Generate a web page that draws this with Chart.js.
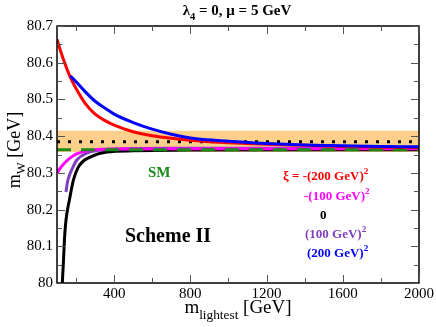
<!DOCTYPE html>
<html>
<head>
<meta charset="utf-8">
<script src="https://cdn.jsdelivr.net/npm/chart.js@4.4.0/dist/chart.umd.min.js"></script>
<style>
  body { margin: 0; background: #fff; }
  canvas { display: block; }
</style>
</head>
<body>
<canvas id="mw" width="436" height="327"></canvas>
<script>
// curves: m_lightest [GeV] vs m_W [GeV]
var redMass = [100, 120, 140, 170, 200, 250, 300, 350, 400, 500, 600, 700, 800, 1000, 1200, 1400, 1600, 1800, 2000];
var redMw   = [80.664, 80.63, 80.60, 80.56, 80.53, 80.488, 80.46, 80.443, 80.43, 80.412, 80.401, 80.394, 80.389, 80.382, 80.378, 80.375, 80.372, 80.370, 80.369];

var blueMass = [170, 200, 250, 300, 350, 400, 500, 600, 700, 800, 1000, 1200, 1400, 1600, 1800, 2000];
var blueMw   = [80.564, 80.548, 80.52, 80.495, 80.477, 80.46, 80.437, 80.419, 80.405, 80.395, 80.386, 80.38, 80.376, 80.374, 80.372, 80.371];

var blackMass = [126, 128, 134, 139, 145, 152, 165, 186, 217, 274, 361, 500, 800, 2000];
var blackMw   = [79.97, 80.0, 80.06, 80.117, 80.16, 80.19, 80.226, 80.28, 80.32, 80.343, 80.357, 80.360, 80.362, 80.363];

var purpleMass = [147, 155, 165, 177, 204, 256, 326, 450, 700, 2000];
var purpleMw   = [80.248, 80.275, 80.293, 80.308, 80.335, 80.354, 80.362, 80.366, 80.367, 80.367];

var magentaMass = [100, 120, 140, 168, 200, 250, 300, 400, 700, 2000];
var magentaMw   = [80.299, 80.315, 80.327, 80.34, 80.351, 80.359, 80.363, 80.365, 80.366, 80.366];

var smMass = [100, 2000];
var smMw = [80.363, 80.363];
var expMw = [80.385, 80.385];
var bandLow = [80.357, 80.357];
var bandHigh = [80.415, 80.415];

var xTickValues = [400, 800, 1200, 1600, 2000];
var xMinorTicks = [200, 600, 1000, 1400, 1800];
var yTickValues = [80, 80.1, 80.2, 80.3, 80.4, 80.5, 80.6, 80.7];
var yMinorTicks = [80.05, 80.15, 80.25, 80.35, 80.45, 80.55, 80.65];

function pts(xs, ys) {
  return xs.map(function(x, i) { return {x: x, y: ys[i]}; });
}

function line(xs, ys, color, extra) {
  var d = {
    data: pts(xs, ys),
    borderColor: color,
    borderWidth: 3,
    pointRadius: 0,
    fill: false,
    cubicInterpolationMode: 'monotone'
  };
  for (var k in extra) d[k] = extra[k];
  return d;
}

var SERIF = '"Liberation Serif", "DejaVu Serif", serif';

// draw text with sub/superscript pieces: parts = [[text, 'n'|'sub'|'sup'], ...]
function rich(ctx, parts, x, y, size, color, weight) {
  ctx.fillStyle = color;
  ctx.textBaseline = 'alphabetic';
  ctx.textAlign = 'left';
  var cx = x;
  parts.forEach(function(p) {
    var s = size, dy = 0;
    if (p[1] === 'sub') { s = size * 0.7; dy = size * 0.3; }
    if (p[1] === 'sup') { s = size * 0.7; dy = -size * 0.45; }
    ctx.font = (weight || '') + ' ' + s + 'px ' + SERIF;
    ctx.fillText(p[0], cx, y + dy);
    cx += ctx.measureText(p[0]).width;
  });
  return cx - x;
}

function richWidth(ctx, parts, size, weight) {
  var w = 0;
  parts.forEach(function(p) {
    var s = (p[1] === 'n') ? size : size * 0.7;
    ctx.font = (weight || '') + ' ' + s + 'px ' + SERIF;
    w += ctx.measureText(p[0]).width;
  });
  return w;
}

var decor = {
  id: 'decor',
  beforeDraw: function(chart) {
    var ctx = chart.ctx;
    ctx.save();
    ctx.fillStyle = '#fff';
    ctx.fillRect(0, 0, chart.width, chart.height);
    ctx.restore();
  },
  afterDraw: function(chart) {
    var ctx = chart.ctx, a = chart.chartArea;
    var xs = chart.scales.x, ys = chart.scales.y;
    ctx.save();
    ctx.strokeStyle = '#000';
    ctx.lineWidth = 1.5;
    ctx.strokeRect(a.left, a.top, a.right - a.left, a.bottom - a.top);

    ctx.lineWidth = 1;
    ctx.strokeStyle = '#555';
    function xt(v, len) {
      var px = Math.round(xs.getPixelForValue(v)) + 0.5;
      ctx.beginPath();
      ctx.moveTo(px, a.bottom); ctx.lineTo(px, a.bottom - len);
      ctx.moveTo(px, a.top); ctx.lineTo(px, a.top + len);
      ctx.stroke();
    }
    function yt(v, len) {
      var py = Math.round(ys.getPixelForValue(v)) + 0.5;
      ctx.beginPath();
      ctx.moveTo(a.left, py); ctx.lineTo(a.left + len, py);
      ctx.moveTo(a.right, py); ctx.lineTo(a.right - len, py);
      ctx.stroke();
    }
    xTickValues.forEach(function(v) { xt(v, 8); });
    xMinorTicks.forEach(function(v) { xt(v, 5); });
    yTickValues.forEach(function(v) { yt(v, 8); });
    yMinorTicks.forEach(function(v) { yt(v, 5); });

    // title
    var title = [['\u03bb', 'n'], ['4', 'sub'], [' = 0, \u03bc = 5 GeV', 'n']];
    var tw = richWidth(ctx, title, 15, 'bold');
    rich(ctx, title, 237 - tw / 2, 15, 15, '#000', 'bold');

    // x axis title
    var xtitle = [['m', 'n'], ['lightest', 'sub'], [' [GeV]', 'n']];
    var xw = richWidth(ctx, xtitle, 19);
    rich(ctx, xtitle, 238 - xw / 2, 313, 19, '#000');

    // y axis title
    ctx.save();
    ctx.translate(20, 150);
    ctx.rotate(-Math.PI / 2);
    var ytitle = [['m', 'n'], ['W', 'sub'], [' [GeV]', 'n']];
    var yw = richWidth(ctx, ytitle, 18);
    rich(ctx, ytitle, -yw / 2, 0, 18, '#000');
    ctx.restore();

    // annotations
    rich(ctx, [['SM', 'n']], 148, 177, 15, '#1a8a1a', 'bold');
    rich(ctx, [['Scheme II', 'n']], 125, 242, 20, '#000', 'bold');
    rich(ctx, [['\u03be = -(200 GeV)', 'n'], ['2', 'sup']], 283, 180, 13, '#ff0000', 'bold');
    rich(ctx, [['-(100 GeV)', 'n'], ['2', 'sup']], 304, 200, 13, '#ff00ff', 'bold');
    rich(ctx, [['0', 'n']], 320, 219, 13, '#000', 'bold');
    rich(ctx, [['(100 GeV)', 'n'], ['2', 'sup']], 305, 238, 13, '#7f3fbf', 'bold');
    rich(ctx, [['(200 GeV)', 'n'], ['2', 'sup']], 307, 257, 13, '#0000ff', 'bold');
    ctx.restore();
  }
};

new Chart(document.getElementById('mw'), {
  type: 'line',
  data: {
    datasets: [
      { data: pts(smMass, bandHigh), borderWidth: 0, pointRadius: 0, fill: '+1', backgroundColor: '#fcd08a', order: 10 },
      { data: pts(smMass, bandLow), borderWidth: 0, pointRadius: 0, fill: false, order: 10 },
      line(smMass, expMw, '#000', { borderDash: [3, 8], borderWidth: 3, order: 9 }),
      line(blackMass, blackMw, '#000', { order: 8 }),
      line(purpleMass, purpleMw, '#7f3fbf', { order: 7 }),
      line(magentaMass, magentaMw, '#ff00ff', { order: 6 }),
      line(smMass, smMw, '#1a8a1a', { borderDash: [14, 10], order: 5 }),
      line(redMass, redMw, '#ff0000', { order: 4 }),
      line(blueMass, blueMw, '#0000ff', { order: 3 })
    ]
  },
  options: {
    responsive: false,
    devicePixelRatio: 1,
    animation: false,
    layout: { padding: { top: 26, right: 17, left: 0, bottom: 0 } },
    plugins: { legend: { display: false }, tooltip: { enabled: false } },
    scales: {
      x: {
        type: 'linear', min: 100, max: 2000,
        afterBuildTicks: function(s) { s.ticks = xTickValues.map(function(v) { return {value: v}; }); },
        afterFit: function(s) { s.height = 44; },
        grid: { display: false, drawTicks: false },
        border: { display: false },
        ticks: {
          color: '#000', padding: 2, maxRotation: 0, font: { family: SERIF, size: 15 },
          callback: function(v) { return String(v); }
        }
      },
      y: {
        min: 80, max: 80.7,
        afterBuildTicks: function(s) { s.ticks = yTickValues.map(function(v) { return {value: v}; }); },
        afterFit: function(s) { s.width = 57; },
        grid: { display: false, drawTicks: false },
        border: { display: false },
        ticks: {
          color: '#000', padding: 4, font: { family: SERIF, size: 15 },
          callback: function(v) { return v === 80 ? '80' : v.toFixed(1); }
        }
      }
    }
  },
  plugins: [decor]
});
</script>
</body>
</html>
